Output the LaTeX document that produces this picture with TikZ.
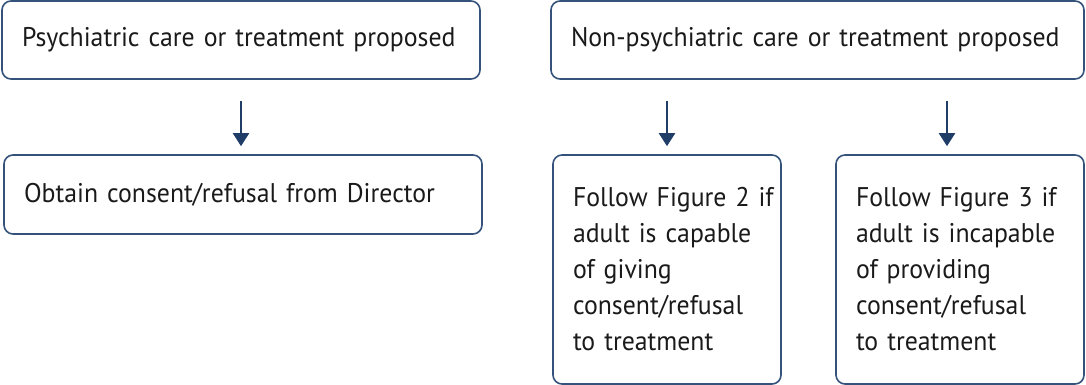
\documentclass[tikz,border=0pt]{standalone}
\usepackage{fontspec}
\setmainfont[FakeStretch=0.955]{PT Sans}
\usetikzlibrary{arrows.meta,calc}
\definecolor{boxline}{HTML}{34527A}
\definecolor{arrowc}{HTML}{1F3D66}
\definecolor{txt}{HTML}{1A1A1A}
\begin{document}
\begin{tikzpicture}[x=1pt,y=1pt,
  flowbox/.style={draw=boxline, line width=1.6pt, rounded corners=9pt,
    align=left, inner xsep=20pt, inner ysep=0pt, text=txt,
    font=\fontsize{27}{36}\selectfont},
  flowarrow/.style={draw=arrowc, line width=2pt,
    -{Triangle[width=16pt,length=13pt]}, shorten <=21pt, shorten >=8pt}]
\useasboundingbox (0,0) rectangle (1086,-385);
\node[flowbox, text width=438pt, minimum height=78pt] (psy) at (241,-40)
  {Psychiatric care or treatment proposed};
\node[flowbox, text width=438pt, minimum height=79pt] (dir) at (243,-194.5)
  {Obtain consent/refusal from Director};
\node[flowbox, text width=493pt, minimum height=78pt] (non) at (817.5,-40)
  {Non-psychiatric care or treatment proposed};
\node[flowbox, text width=188pt, minimum height=229pt] (capable) at (667,-269.5)
  {\mbox{Follow Figure 2 if}\\\mbox{adult is capable}\\\mbox{of giving}\\\mbox{consent/refusal}\\\mbox{to treatment}};
\node[flowbox, text width=208pt, minimum height=229pt] (incap) at (960,-269.5)
  {\mbox{Follow Figure 3 if}\\\mbox{adult is incapable}\\\mbox{of providing}\\\mbox{consent/refusal}\\\mbox{to treatment}};
\draw[flowarrow] (psy.south) -- (psy.south |- dir.north);
\draw[flowarrow] (non.south -| capable.north) -- (capable.north);
\draw[flowarrow] ([xshift=-13pt]incap.north |- non.south) -- ([xshift=-13pt]incap.north);
\end{tikzpicture}
\end{document}
